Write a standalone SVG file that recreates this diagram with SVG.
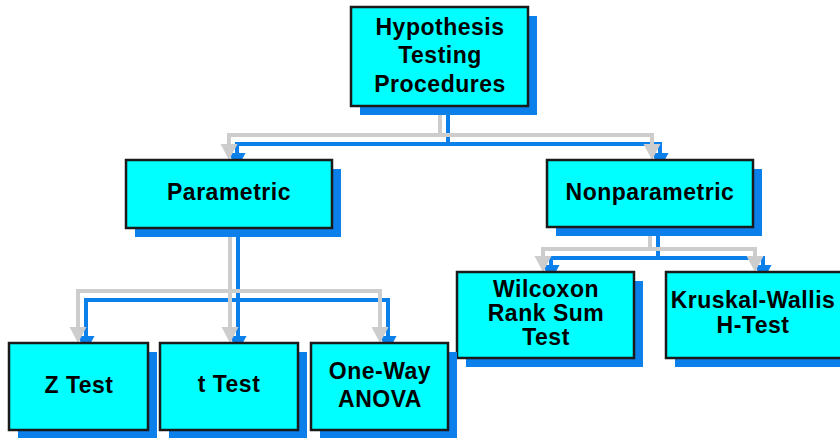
<svg xmlns="http://www.w3.org/2000/svg" width="840" height="438" viewBox="0 0 840 438">
<style>
.box{fill:#00FFFF;stroke:#1a1a1a;stroke-width:2.5}
.sh{fill:#0B80EA}
.t{font-family:"Liberation Sans",Arial,sans-serif;font-weight:bold;font-size:23px;letter-spacing:0.5px;fill:#000;text-anchor:middle}
.g{fill:none;stroke:#CDCDCD;stroke-width:4}
.b{fill:none;stroke:#0B80EA;stroke-width:4}
</style>
<defs>
<marker id="ag" markerUnits="userSpaceOnUse" markerWidth="20" markerHeight="20" viewBox="0 -10 20 20" refX="3" refY="0" orient="auto"><path d="M0,-8.5 L16,0 L0,8.5 z" fill="#CDCDCD"/></marker>
<marker id="ab" markerUnits="userSpaceOnUse" markerWidth="20" markerHeight="20" viewBox="0 -10 20 20" refX="3" refY="0" orient="auto"><path d="M0,-8.5 L16,0 L0,8.5 z" fill="#0B80EA"/></marker>
</defs>
<g id="connectors">
<g class="b" transform="translate(8,9)">
<path d="M440,106 V135 H229 V147" marker-end="url(#ab)"/>
<path d="M440,106 V135 H652 V147" marker-end="url(#ab)"/>
<path d="M230,228 V291 H78 V330" marker-end="url(#ab)"/>
<path d="M230,228 V330" marker-end="url(#ab)"/>
<path d="M230,228 V291 H380 V330" marker-end="url(#ab)"/>
<path d="M650,227 V249 H543 V259" marker-end="url(#ab)"/>
<path d="M650,227 V249 H755 V259" marker-end="url(#ab)"/>
</g>
<g class="g">
<path d="M440,106 V135 H229 V147" marker-end="url(#ag)"/>
<path d="M440,106 V135 H652 V147" marker-end="url(#ag)"/>
<path d="M230,228 V291 H78 V330" marker-end="url(#ag)"/>
<path d="M230,228 V330" marker-end="url(#ag)"/>
<path d="M230,228 V291 H380 V330" marker-end="url(#ag)"/>
<path d="M650,227 V249 H543 V259" marker-end="url(#ag)"/>
<path d="M650,227 V249 H755 V259" marker-end="url(#ag)"/>
</g>
</g>
<g id="root">
<rect class="sh" x="360" y="16" width="177" height="99"/>
<rect class="box" x="351" y="7" width="177" height="99"/>
<text class="t" x="440" y="35">Hypothesis</text>
<text class="t" x="440" y="63">Testing</text>
<text class="t" x="440" y="92">Procedures</text>
</g>
<g id="parametric">
<rect class="sh" x="135" y="169" width="206" height="68"/>
<rect class="box" x="126" y="160" width="206" height="68"/>
<text class="t" x="229" y="200">Parametric</text>
</g>
<g id="nonparametric">
<rect class="sh" x="556" y="169" width="206" height="67"/>
<rect class="box" x="547" y="160" width="206" height="67"/>
<text class="t" x="650" y="200">Nonparametric</text>
</g>
<g id="wilcoxon">
<rect class="sh" x="466" y="281" width="177" height="86"/>
<rect class="box" x="457" y="272" width="177" height="86"/>
<text class="t" x="546" y="297">Wilcoxon</text>
<text class="t" x="546" y="321">Rank Sum</text>
<text class="t" x="546" y="345">Test</text>
</g>
<g id="kruskal">
<rect class="sh" x="675" y="281" width="184" height="86"/>
<rect class="box" x="666" y="272" width="184" height="86"/>
<text class="t" x="753" y="308">Kruskal-Wallis</text>
<text class="t" x="753" y="333">H-Test</text>
</g>
<g id="ztest">
<rect class="sh" x="18" y="352" width="139" height="87"/>
<rect class="box" x="9" y="343" width="139" height="87"/>
<text class="t" x="79" y="393">Z Test</text>
</g>
<g id="ttest">
<rect class="sh" x="169" y="352" width="138" height="87"/>
<rect class="box" x="160" y="343" width="138" height="87"/>
<text class="t" x="229" y="392">t Test</text>
</g>
<g id="anova">
<rect class="sh" x="320" y="352" width="137" height="87"/>
<rect class="box" x="311" y="343" width="137" height="87"/>
<text class="t" x="380" y="379">One-Way</text>
<text class="t" x="380" y="407">ANOVA</text>
</g>
</svg>
